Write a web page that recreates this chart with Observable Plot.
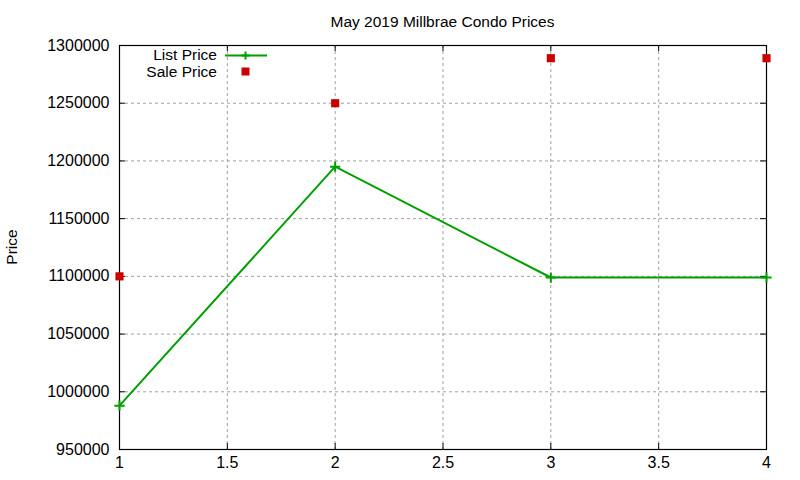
<!DOCTYPE html>
<html><head><meta charset="utf-8">
<script src="https://cdn.jsdelivr.net/npm/d3@7"></script>
<script src="https://cdn.jsdelivr.net/npm/@observablehq/plot@0.6"></script>
<style>
body{margin:0;background:#fff}
svg{font-family:"Liberation Sans",Arial,sans-serif}
</style>
</head><body><div id="chart"></div>
<script>
const weeks = [1, 2, 3, 4];
const listPrice = [988000, 1195000, 1099000, 1099000];
const salePrice = [1100000, 1250000, 1289000, 1289000];
const xTicks = [1, 1.5, 2, 2.5, 3, 3.5, 4];
const yTicks = [950000, 1000000, 1050000, 1100000, 1150000, 1200000, 1250000, 1300000];
const title = "May 2019 Millbrae Condo Prices";
const yLabel = "Price";
const seriesNames = ["List Price", "Sale Price"];

const listData = weeks.map((w, i) => ({x: w, y: listPrice[i]}));
const saleData = weeks.map((w, i) => ({x: w, y: salePrice[i]}));

const W = 800, H = 480, mL = 119, mR = 34, mT = 45, mB = 31;
const fw = W - mL - mR, fh = H - mT - mB;
const green = "#00a000", red = "#cc0000";

const chart = Plot.plot({
  width: W, height: H,
  marginLeft: mL, marginRight: mR, marginTop: mT, marginBottom: mB,
  style: {fontSize: "16px", fontFamily: "'Liberation Sans', Arial, sans-serif", background: "#fff", color: "#000", overflow: "visible"},
  x: {domain: [1, 4], label: null},
  y: {domain: [950000, 1300000], label: null},
  marks: [
    Plot.gridX(xTicks, {stroke: "#a0a0a0", strokeOpacity: 1, strokeDasharray: "3,3"}),
    Plot.gridY(yTicks, {stroke: "#a0a0a0", strokeOpacity: 1, strokeDasharray: "3,3"}),
    Plot.ruleX(xTicks, {insetTop: fh - 6, stroke: "#000"}),
    Plot.ruleX(xTicks, {insetBottom: fh - 6, stroke: "#000"}),
    Plot.ruleY(yTicks, {insetRight: fw - 6, stroke: "#000"}),
    Plot.ruleY(yTicks, {insetLeft: fw - 6, stroke: "#000"}),
    Plot.frame({stroke: "#000", strokeWidth: 1.2}),
    Plot.axisX(xTicks, {tickSize: 0, tickPadding: 7, tickFormat: d => String(d), label: null, fontSize: 16}),
    Plot.axisY(yTicks, {tickSize: 0, tickPadding: 10, tickFormat: d3.format("d"), label: null, fontSize: 16}),
    Plot.line(listData, {x: "x", y: "y", stroke: green, strokeWidth: 2}),
    Plot.dot(listData, {x: "x", y: "y", symbol: "plus", r: 3.4, stroke: green, strokeWidth: 2}),
    Plot.dot(saleData, {x: "x", y: "y", symbol: "square", r: 4.6, fill: red, stroke: "none"})
  ]
});
document.getElementById("chart").appendChild(chart);

const svg = d3.select(chart);
svg.append("text").attr("x", (mL + W - mR) / 2).attr("y", 27)
  .attr("text-anchor", "middle").attr("font-size", 15.5).attr("fill", "#000").text(title);
svg.append("text").attr("transform", `translate(17,${mT + fh / 2}) rotate(-90)`)
  .attr("text-anchor", "middle").attr("font-size", 15.5).attr("fill", "#000").text(yLabel);

const lg = svg.append("g").attr("font-size", 15.5).attr("fill", "#000");
lg.append("text").attr("x", 217).attr("y", 60).attr("text-anchor", "end").text(seriesNames[0]);
lg.append("line").attr("x1", 225).attr("x2", 267).attr("y1", 55.5).attr("y2", 55.5)
  .attr("stroke", green).attr("stroke-width", 2);
lg.append("path").attr("d", "M241.5,55.5h8M245.5,51.5v8").attr("stroke", green).attr("stroke-width", 2);
lg.append("text").attr("x", 217).attr("y", 77).attr("text-anchor", "end").text(seriesNames[1]);
lg.append("rect").attr("x", 241.5).attr("y", 67.5).attr("width", 8).attr("height", 8).attr("fill", red);
</script>
</body></html>
